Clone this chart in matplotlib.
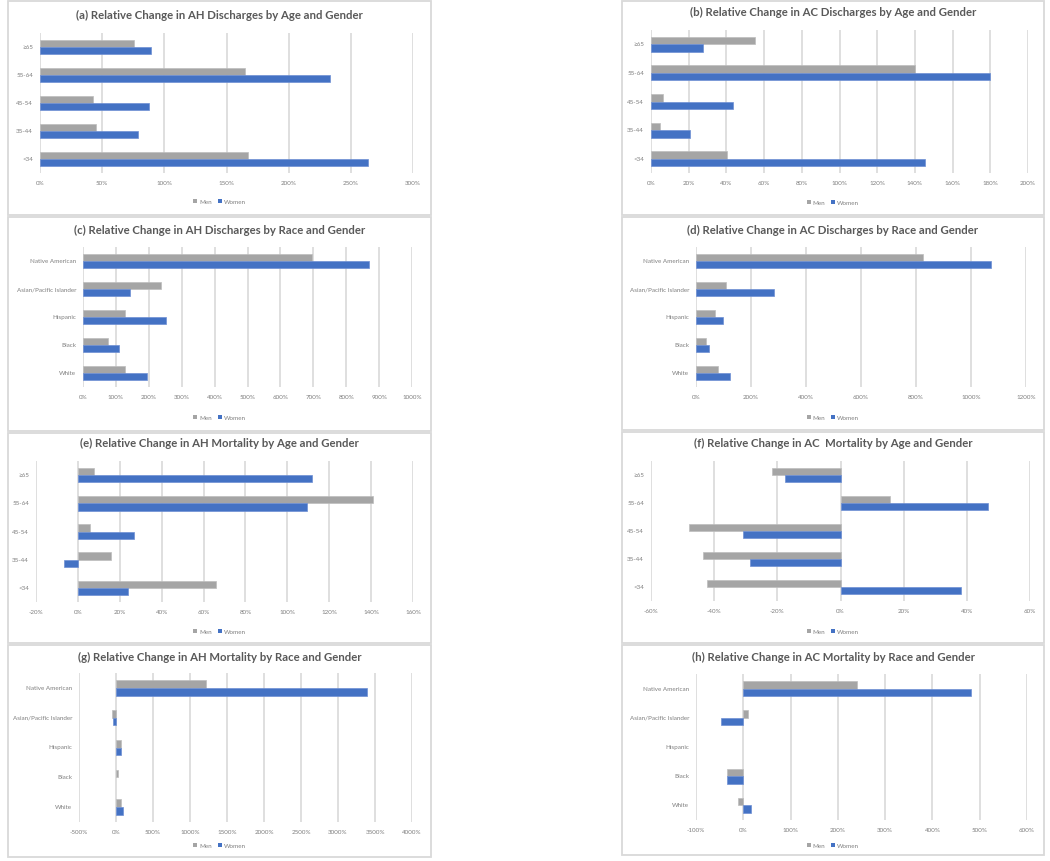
import numpy as np
import matplotlib
matplotlib.use("Agg")
from matplotlib import pyplot as plt
from matplotlib.patches import Rectangle, Patch

plt.rcParams['font.family'] = ['Lato', 'DejaVu Sans']

# categories
age_labels = ["<34", "35-44", "45-54", "55-64", "≥65"]
race_labels = ["White", "Black", "Hispanic", "Asian/Pacific Islander", "Native American"]

# relative change (%), bottom category first
a_men = [167, 45, 43, 165, 76]
a_women = [264, 79, 88, 233, 89]
b_men = [40.5, 4.8, 6.2, 140, 55]
b_women = [145.5, 20.7, 43.3, 180, 27.4]
c_men = [129, 75, 129, 236, 695]
c_women = [196, 109, 251, 142, 868]
d_men = [80, 38, 70, 108, 824]
d_women = [123, 46, 98, 283, 1074]
e_men = [66, 16, 5.6, 141, 7.5]
e_women = [24, -6.7, 26.6, 109.3, 111.7]
f_men = [-42.4, -43.4, -48.1, 15.6, -21.6]
f_women = [38, -28.6, -31, 46.6, -17.6]
g_men = [72, 22, 72, -60, 1212]
g_women = [90, 0, 72, -35, 3396]
h_men = [-11, -35, 0, 10, 240]
h_women = [16, -35, 0, -47, 481]

titles = [
    "(a) Relative Change in AH Discharges by Age and Gender",
    "(b) Relative Change in AC Discharges by Age and Gender",
    "(c) Relative Change in AH Discharges by Race and Gender",
    "(d) Relative Change in AC Discharges by Race and Gender",
    "(e) Relative Change in AH Mortality by Age and Gender",
    "(f) Relative Change in AC  Mortality by Age and Gender",
    "(g) Relative Change in AH Mortality by Race and Gender",
    "(h) Relative Change in AC Mortality by Race and Gender",
]

W, H = 1050, 861
GRAY = "#A5A5A5"
BLUE = "#4472C4"
TXT = "#7F7F7F"
GRID = "#D9D9D9"

fig = plt.figure(figsize=(W / 100, H / 100), dpi=100)

def fx(x):
    return x / W

def fy(y):
    return 1 - y / H

# box (x0, x1, y0, y1), plot area (x0, x1, y0, y1), title y, ticks, legend y
panels = [
    (age_labels, a_men, a_women, (8, 431, 1, 215), (40, 413, 33, 173), 15, (0, 300, 50), 202),
    (age_labels, b_men, b_women, (622, 1044, 1, 215), (651, 1028, 30, 173), 12, (0, 200, 20), 203),
    (race_labels, c_men, c_women, (8, 431, 217, 431), (83, 412, 247, 387), 230, (0, 1000, 100), 418),
    (race_labels, d_men, d_women, (622, 1044, 217, 430), (696, 1026, 247, 387), 230, (0, 1200, 200), 418),
    (age_labels, e_men, e_women, (8, 431, 433, 643), (36, 413, 461, 602), 443, (-20, 160, 20), 632),
    (age_labels, f_men, f_women, (622, 1044, 432, 643), (651, 1030, 461, 601), 443, (-60, 60, 20), 632),
    (race_labels, g_men, g_women, (8, 431, 645, 857), (79, 412, 673, 822), 657, (-500, 4000, 500), 846),
    (race_labels, h_men, h_women, (622, 1044, 645, 855), (696, 1027, 674, 820), 657, (-100, 600, 100), 846),
]

for i, (cats, men, women, box, area, ty, tk, ly) in enumerate(panels):
    bx0, bx1, by0, by1 = box
    fig.patches.append(Rectangle((fx(bx0), fy(by1)), fx(bx1 - bx0), (by1 - by0) / H,
                                 transform=fig.transFigure, fill=False,
                                 edgecolor=GRID, linewidth=1.3))
    px0, px1, py0, py1 = area
    ax = fig.add_axes([fx(px0), fy(py1), fx(px1 - px0), (py1 - py0) / H])
    y = np.arange(len(cats))
    # no outline on zero bars, otherwise they show up as a thin line
    lw_m = [0.5 if v != 0 else 0 for v in men]
    lw_w = [0.5 if v != 0 else 0 for v in women]
    ax.barh(y + 0.13, men, height=0.26, color=GRAY, edgecolor="#BDBDBD", linewidth=lw_m, zorder=3)
    ax.barh(y - 0.13, women, height=0.26, color=BLUE, edgecolor="#6E8FD3", linewidth=lw_w, zorder=3)
    ticks = np.arange(tk[0], tk[1] + tk[2] / 2, tk[2])
    ax.set_xlim(tk[0], tk[1])
    ax.set_xticks(ticks)
    ax.set_xticklabels([f"{t:.0f}%" for t in ticks])
    ax.set_ylim(-0.5, len(cats) - 0.5)
    ax.set_yticks(y)
    ax.set_yticklabels(cats)
    ax.grid(axis="x", color=GRID, linewidth=1.2, zorder=0)
    ax.set_axisbelow(True)
    for s in ax.spines.values():
        s.set_visible(False)
    ax.tick_params(length=0, labelsize=4.5, colors=TXT, pad=6)
    ax.tick_params(axis="y", pad=5)
    cx = (bx0 + bx1) / 2
    fig.text(fx(cx), fy(ty), titles[i], ha="center", va="center",
             fontsize=8.2, color="#595959", fontweight="bold")
    handles = [Patch(facecolor=GRAY, edgecolor="none"), Patch(facecolor=BLUE, edgecolor="none")]
    fig.legend(handles, ["Men", "Women"], loc="center", bbox_to_anchor=(fx(cx), fy(ly)),
               ncol=2, frameon=False, fontsize=4.5, labelcolor=TXT,
               handlelength=0.6, handleheight=0.6, handletextpad=0.3, columnspacing=1.0)

fig.savefig("out.png", dpi=100, facecolor="white")
